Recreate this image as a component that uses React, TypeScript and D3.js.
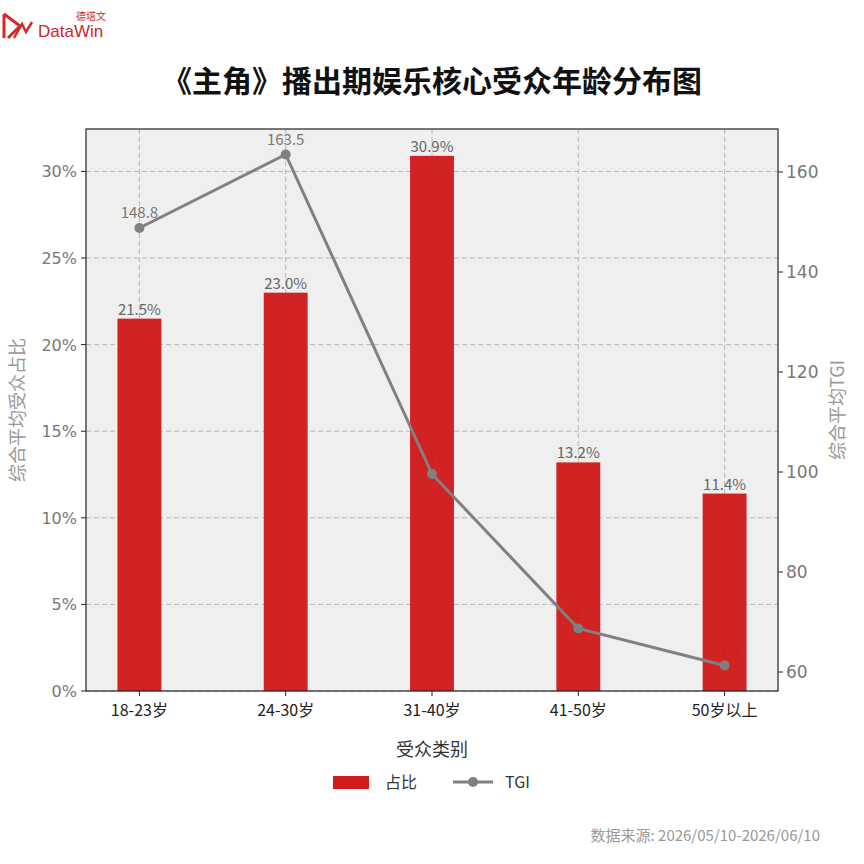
import * as d3 from "d3";
import React from "react";

const categories = ["18-23岁", "24-30岁", "31-40岁", "41-50岁", "50岁以上"];
const shares = [21.5, 23.0, 30.9, 13.2, 11.4];
const tgi = [148.8, 163.5, 99.6, 68.7, 61.3];
const leftTicks = [0, 5, 10, 15, 20, 25, 30];
const rightTicks = [60, 80, 100, 120, 140, 160];

const FONT = "'Noto Sans CJK SC', 'Noto Sans', sans-serif";
const NUM = "'DejaVu Sans', sans-serif";

export default function App() {
  const width = 864;
  const height = 864;
  const m = { left: 86, right: 778, top: 129, bottom: 691 };

  const barW = 0.3;
  const n = categories.length;
  const pad = 0.05 * (n - 1 + barW);
  const x = d3
    .scaleLinear()
    .domain([-barW / 2 - pad, n - 1 + barW / 2 + pad])
    .range([m.left, m.right]);

  const yL = d3.scaleLinear().domain([0, 32.45]).range([m.bottom, m.top]);
  const yR = d3.scaleLinear().domain([56.2, 168.6]).range([m.bottom, m.top]);

  const line = d3
    .line<number>()
    .x((_, i) => x(i))
    .y((d) => yR(d));

  const bw = x(barW) - x(0);

  return (
    <div style={{ position: "fixed", left: 0, top: 0 }}>
      <svg width={width} height={height} style={{ display: "block", background: "#fff" }} fontFamily={FONT}>
        {/* logo */}
        <g>
          <path d="M4 14 L4 38 M4 14 L20 26 L8 38" fill="none" stroke="#d42a2a" strokeWidth={3} />
          <path d="M14 38 L22 24 L26 32 L32 22" fill="none" stroke="#d42a2a" strokeWidth={2.5} />
          <text x={38} y={37} fontSize={17} fill="#c8282a" fontFamily="'Liberation Sans', Arial, sans-serif">DataWin</text>
          <text x={76} y={20} fontSize={10} fill="#c8282a">德塔文</text>
        </g>

        <text x={432} y={92} textAnchor="middle" fontSize={30} fontWeight="bold" fill="#111">
          《主角》播出期娱乐核心受众年龄分布图
        </text>

        {/* plot background */}
        <rect x={m.left} y={m.top} width={m.right - m.left} height={m.bottom - m.top} fill="#efefef" />

        {/* grid */}
        {leftTicks.map((t) => (
          <line key={"gy" + t} x1={m.left} x2={m.right} y1={yL(t)} y2={yL(t)} stroke="#b8b8b8" strokeDasharray="5,3" strokeWidth={1} />
        ))}
        {categories.map((c, i) => (
          <line key={"gx" + c} x1={x(i)} x2={x(i)} y1={m.top} y2={m.bottom} stroke="#b8b8b8" strokeDasharray="5,3" strokeWidth={1} />
        ))}

        {/* TGI labels, mostly hidden behind bars */}
        {tgi.map((v, i) => (
          <text key={"tl" + i} x={x(i)} y={yR(v) - 10} textAnchor="middle" fontSize={15} fill="#777">
            {v.toFixed(1)}
          </text>
        ))}

        {/* bars */}
        {shares.map((v, i) => (
          <rect key={"b" + i} x={x(i) - bw / 2} y={yL(v)} width={bw} height={yL(0) - yL(v)} fill="#d01c1c" fillOpacity={0.97} />
        ))}
        {shares.map((v, i) => (
          <text key={"bl" + i} x={x(i)} y={yL(v) - 4} textAnchor="middle" fontSize={15} fill="#666">
            {v.toFixed(1)}%
          </text>
        ))}

        {/* line */}
        <path d={line(tgi) || ""} fill="none" stroke="#808080" strokeWidth={3} />
        {tgi.map((v, i) => (
          <circle key={"p" + i} cx={x(i)} cy={yR(v)} r={5} fill="#808080" />
        ))}

        {/* frame */}
        <rect x={m.left} y={m.top} width={m.right - m.left} height={m.bottom - m.top} fill="none" stroke="#222" strokeWidth={1.2} />

        {/* left axis */}
        {leftTicks.map((t) => (
          <g key={"lt" + t}>
            <line x1={m.left - 5} x2={m.left} y1={yL(t)} y2={yL(t)} stroke="#222" />
            <text x={m.left - 9} y={yL(t) + 6} textAnchor="end" fontSize={16} fill="#777" fontFamily={NUM}>
              {t}%
            </text>
          </g>
        ))}
        {/* right axis */}
        {rightTicks.map((t) => (
          <g key={"rt" + t}>
            <line x1={m.right} x2={m.right + 5} y1={yR(t)} y2={yR(t)} stroke="#222" />
            <text x={m.right + 8} y={yR(t) + 6} textAnchor="start" fontSize={17} fill="#777" fontFamily={NUM}>
              {t}
            </text>
          </g>
        ))}
        {/* x axis */}
        {categories.map((c, i) => (
          <g key={"xt" + c}>
            <line x1={x(i)} x2={x(i)} y1={m.bottom} y2={m.bottom + 5} stroke="#222" />
            <text x={x(i)} y={m.bottom + 25} textAnchor="middle" fontSize={16} fill="#222">
              {c}
            </text>
          </g>
        ))}

        {/* axis titles */}
        <text transform={`translate(24,410) rotate(-90)`} textAnchor="middle" fontSize={18} fill="#999">
          综合平均受众占比
        </text>
        <text transform={`translate(844,410) rotate(-90)`} textAnchor="middle" fontSize={18} fill="#999">
          综合平均TGI
        </text>
        <text x={432} y={756} textAnchor="middle" fontSize={18} fill="#333">
          受众类别
        </text>

        {/* legend */}
        <rect x={333} y={776} width={36} height={13} fill="#d01c1c" />
        <text x={385} y={788} fontSize={16} fill="#333">占比</text>
        <line x1={453} x2={493} y1={782} y2={782} stroke="#808080" strokeWidth={3} />
        <circle cx={473} cy={782} r={5} fill="#808080" />
        <text x={505} y={788} fontSize={16} fill="#333">TGI</text>

        {/* source */}
        <text x={820} y={841} textAnchor="end" fontSize={15} fill="#999">
          数据来源: 2026/05/10-2026/06/10
        </text>
      </svg>
    </div>
  );
}
